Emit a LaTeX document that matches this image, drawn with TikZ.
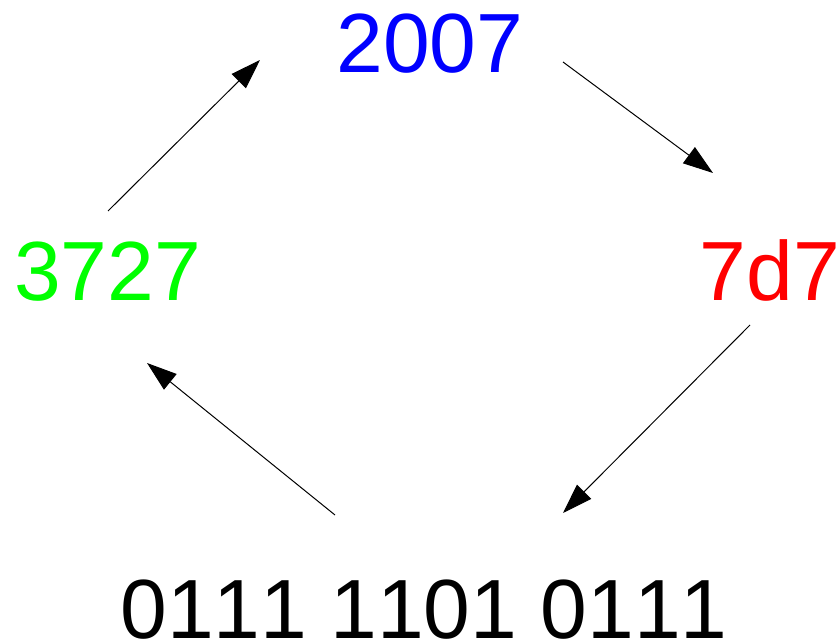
\documentclass[tikz,border=0pt]{standalone}
\usepackage{fontspec}
\setmainfont[Kerning=Off]{Liberation Sans}
\usetikzlibrary{arrows.meta}
\definecolor{pureblue}{RGB}{0,0,255}
\definecolor{puregreen}{RGB}{0,255,0}
\definecolor{purered}{RGB}{255,0,0}
\tikzset{
  num/.style={inner sep=0pt, font=\fontsize{84}{84}\selectfont},
  conn/.style={line width=1pt, -{Triangle[length=30pt,width=20pt]}}
}
\begin{document}
\begin{tikzpicture}[x=1pt,y=-1pt]
\useasboundingbox (0,0) rectangle (839,642);
\node[num, anchor=base, text=pureblue] (top) at (430,73) {2007};
\node[num, anchor=base west, text=puregreen] (left) at (14,300) {3727};
\node[num, anchor=base east, text=purered] (right) at (840,300) {7d7};
\node[num, anchor=base, text=black] (bottom) at (424,638) {0111 1101 0111};
\coordinate (a1s) at (108,211); \coordinate (a1e) at (260,60);
\coordinate (a2s) at (563,62);  \coordinate (a2e) at (713,173);
\coordinate (a3s) at (750,325); \coordinate (a3e) at (563,513);
\coordinate (a4s) at (335,515); \coordinate (a4e) at (147,363);
\draw[conn] (a1s) -- (a1e);
\draw[conn] (a2s) -- (a2e);
\draw[conn] (a3s) -- (a3e);
\draw[conn] (a4s) -- (a4e);
\end{tikzpicture}
\end{document}
